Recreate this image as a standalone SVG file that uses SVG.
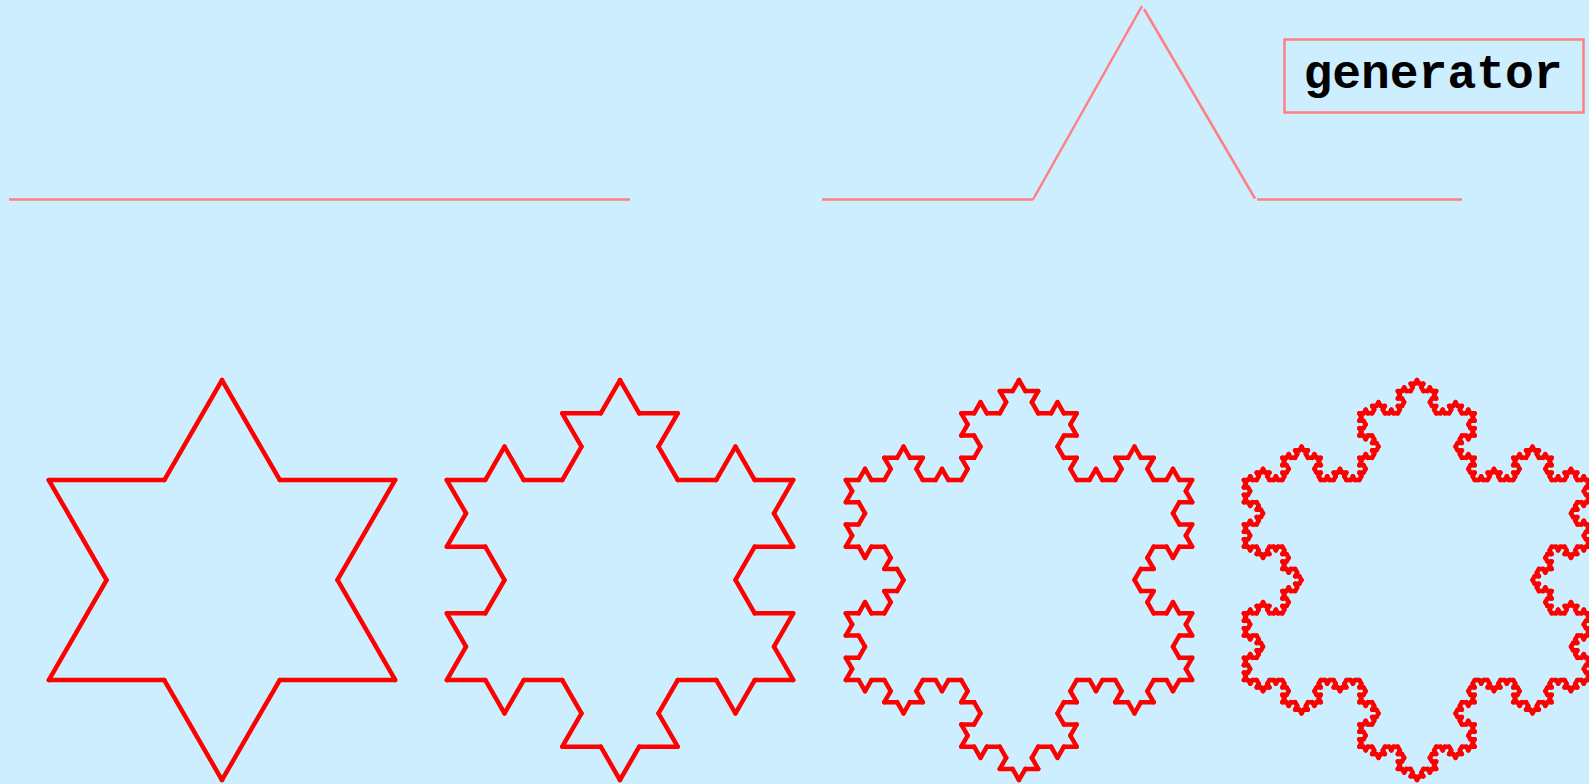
<svg xmlns="http://www.w3.org/2000/svg" xmlns:xlink="http://www.w3.org/1999/xlink" width="1589" height="784" viewBox="0 0 1589 784">
<style>
.pink{stroke:#ff8080;stroke-width:2.5;fill:none}
.k{stroke:#ff0000;stroke-width:4.5;stroke-linecap:round;fill:none}
.lbl{font-family:"Liberation Mono","Courier New",monospace;font-weight:bold;font-size:48px;fill:#000}
</style>
<defs>
<!-- chain A: level 4, base 4.2767 -->
<line id="A0" class="k" x1="0" y1="0" x2="4.2767" y2="0"/>
<g id="A1"><use href="#A0"/><use href="#A0" transform="translate(4.2767,0) rotate(-60)"/><use href="#A0" transform="translate(6.4150,-3.7037) rotate(60)"/><use href="#A0" transform="translate(8.5534,0)"/></g>
<g id="A2"><use href="#A1"/><use href="#A1" transform="translate(12.830,0) rotate(-60)"/><use href="#A1" transform="translate(19.245,-11.111) rotate(60)"/><use href="#A1" transform="translate(25.660,0)"/></g>
<g id="A3"><use href="#A2"/><use href="#A2" transform="translate(38.490,0) rotate(-60)"/><use href="#A2" transform="translate(57.735,-33.333) rotate(60)"/><use href="#A2" transform="translate(76.980,0)"/></g>
<g id="A4"><use href="#A3"/><use href="#A3" transform="translate(115.47,0) rotate(-60)"/><use href="#A3" transform="translate(173.205,-100) rotate(60)"/><use href="#A3" transform="translate(230.94,0)"/></g>
<!-- chain B: level 3, base 12.830 -->
<line id="B0" class="k" x1="0" y1="0" x2="12.830" y2="0"/>
<g id="B1"><use href="#B0"/><use href="#B0" transform="translate(12.830,0) rotate(-60)"/><use href="#B0" transform="translate(19.245,-11.111) rotate(60)"/><use href="#B0" transform="translate(25.660,0)"/></g>
<g id="B2"><use href="#B1"/><use href="#B1" transform="translate(38.490,0) rotate(-60)"/><use href="#B1" transform="translate(57.735,-33.333) rotate(60)"/><use href="#B1" transform="translate(76.980,0)"/></g>
<g id="B3"><use href="#B2"/><use href="#B2" transform="translate(115.47,0) rotate(-60)"/><use href="#B2" transform="translate(173.205,-100) rotate(60)"/><use href="#B2" transform="translate(230.94,0)"/></g>
<!-- chain C: level 2, base 38.490 -->
<line id="C0" class="k" x1="0" y1="0" x2="38.490" y2="0"/>
<g id="C1"><use href="#C0"/><use href="#C0" transform="translate(38.490,0) rotate(-60)"/><use href="#C0" transform="translate(57.735,-33.333) rotate(60)"/><use href="#C0" transform="translate(76.980,0)"/></g>
<g id="C2"><use href="#C1"/><use href="#C1" transform="translate(115.47,0) rotate(-60)"/><use href="#C1" transform="translate(173.205,-100) rotate(60)"/><use href="#C1" transform="translate(230.94,0)"/></g>
<!-- chain D: level 1, base 115.47 -->
<line id="D0" class="k" x1="0" y1="0" x2="115.47" y2="0"/>
<g id="D1"><use href="#D0"/><use href="#D0" transform="translate(115.47,0) rotate(-60)"/><use href="#D0" transform="translate(173.205,-100) rotate(60)"/><use href="#D0" transform="translate(230.94,0)"/></g>
</defs>
<rect x="0" y="0" width="1589" height="784" fill="#cceeff"/>
<g id="initiator">
<line class="pink" x1="9" y1="199.5" x2="630" y2="199.5"/>
</g>
<g id="connectors">
<line class="pink" x1="822" y1="199.5" x2="1033" y2="199.5"/>
<line class="pink" x1="1033" y1="199.5" x2="1142" y2="6"/>
<line class="pink" x1="1144" y1="9" x2="1255" y2="198.5"/>
<line class="pink" x1="1257" y1="199.5" x2="1462" y2="199.5"/>
</g>
<g id="generator-label">
<rect class="pink" x="1284.5" y="39.5" width="299" height="73"/>
<text class="lbl" x="1433" y="88" text-anchor="middle">generator</text>
</g>
<g id="snowflake-1">
<use href="#D1" transform="translate(395.205,680) rotate(180)"/>
<use href="#D1" transform="translate(48.795,680) rotate(-60)"/>
<use href="#D1" transform="translate(222,380) rotate(60)"/>
</g>
<g id="snowflake-2">
<use href="#C2" transform="translate(793.205,680) rotate(180)"/>
<use href="#C2" transform="translate(446.795,680) rotate(-60)"/>
<use href="#C2" transform="translate(620,380) rotate(60)"/>
</g>
<g id="snowflake-3">
<use href="#B3" transform="translate(1192.205,680) rotate(180)"/>
<use href="#B3" transform="translate(845.795,680) rotate(-60)"/>
<use href="#B3" transform="translate(1019,380) rotate(60)"/>
</g>
<g id="snowflake-4">
<use href="#A4" transform="translate(1590.205,680) rotate(180)"/>
<use href="#A4" transform="translate(1243.795,680) rotate(-60)"/>
<use href="#A4" transform="translate(1417,380) rotate(60)"/>
</g>
</svg>
